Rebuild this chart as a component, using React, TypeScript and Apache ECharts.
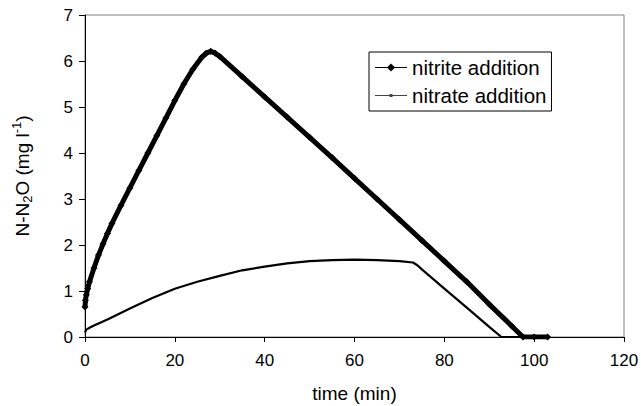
import React, { useEffect, useRef } from "react";
import * as echarts from "echarts";

const nitriteTime = [0, 0.1, 0.3, 0.6, 1, 2, 3, 4, 5, 6, 8, 10, 12, 14, 16, 18, 20, 22, 24, 26, 27, 28, 29, 30, 35, 40, 45, 50, 55, 60, 65, 70, 75, 80, 85, 90, 95, 97.5, 100, 103];
const nitriteValue = [0.65, 0.8, 0.92, 1.05, 1.2, 1.5, 1.78, 2.02, 2.25, 2.47, 2.86, 3.24, 3.62, 4.0, 4.38, 4.76, 5.14, 5.5, 5.82, 6.08, 6.17, 6.21, 6.17, 6.1, 5.66, 5.22, 4.78, 4.34, 3.9, 3.45, 3.0, 2.55, 2.1, 1.65, 1.2, 0.71, 0.24, 0, 0, 0];

const nitrateTime = [0, 0.3, 1, 2, 5, 10, 15, 20, 25, 30, 35, 40, 45, 50, 55, 60, 65, 70, 73, 74, 75, 80, 85, 90, 92.7, 95, 98];
const nitrateValue = [0.1, 0.16, 0.2, 0.25, 0.38, 0.62, 0.85, 1.05, 1.2, 1.33, 1.45, 1.53, 1.6, 1.65, 1.67, 1.68, 1.67, 1.65, 1.62, 1.56, 1.47, 1.05, 0.64, 0.22, 0, 0, 0];

const seriesNames = ["nitrite addition", "nitrate addition"];
const xTicks = [0, 20, 40, 60, 80, 100, 120];
const yTicks = [0, 1, 2, 3, 4, 5, 6, 7];

const FONT = "'Liberation Sans', Arial, Helvetica, sans-serif";

export default function App() {
  const ref = useRef<HTMLDivElement>(null);
  useEffect(() => {
    if (!ref.current) return;
    const chart = echarts.init(ref.current, null, { renderer: "svg" });
    const nitrite = nitriteTime.map((t, i) => [t, nitriteValue[i]]);
    const nitrate = nitrateTime.map((t, i) => [t, nitrateValue[i]]);
    chart.setOption({
      animation: false,
      backgroundColor: "#fff",
      textStyle: { fontFamily: FONT },
      grid: {
        left: 85,
        right: 17,
        top: 15,
        bottom: 69,
        outerBoundsMode: "none",
        containLabel: false,
        show: true,
        borderColor: "#808080",
        borderWidth: 1,
        backgroundColor: "transparent",
      },
      legend: {
        orient: "vertical",
        left: 369,
        top: 52,
        padding: [5, 5, 5, 6],
        itemGap: 7,
        itemWidth: 32,
        itemHeight: 10,
        borderColor: "#000",
        borderWidth: 1,
        backgroundColor: "#fff",
        textStyle: { fontSize: 20.5, color: "#000", fontFamily: FONT },
        data: [
          {
            name: seriesNames[0],
            icon: "path://M0,4.4H32V5.6H0Z M16,1L20,5L16,9L12,5Z",
            itemStyle: { color: "#000" },
          },
          {
            name: seriesNames[1],
            icon: "path://M0,4.4H32V5.6H0Z M14.5,3.5H17.5V6.5H14.5Z",
            itemStyle: { color: "#444" },
          },
        ],
      },
      xAxis: {
        type: "value",
        min: xTicks[0],
        max: xTicks[xTicks.length - 1],
        interval: 20,
        name: "time (min)",
        nameLocation: "middle",
        nameGap: 47,
        nameTextStyle: { fontSize: 19, color: "#000", fontFamily: FONT },
        axisLine: { show: true, onZero: false, lineStyle: { color: "#000", width: 1 } },
        axisTick: { show: true, inside: false, length: 5, lineStyle: { color: "#000" } },
        axisLabel: { fontSize: 17, color: "#000", margin: 15, fontFamily: FONT },
        splitLine: { show: false },
      },
      yAxis: {
        type: "value",
        min: yTicks[0],
        max: yTicks[yTicks.length - 1],
        interval: 1,
        name: "{a|N-N}{s|2}{a|O (mg l}{p|-1}{a|)}",
        nameLocation: "middle",
        nameRotate: 90,
        nameGap: 51,
        nameTextStyle: {
          color: "#000",
          fontFamily: FONT,
          rich: {
            a: { fontSize: 19, lineHeight: 24, verticalAlign: "middle", color: "#000", fontFamily: FONT },
            s: { fontSize: 13, lineHeight: 24, verticalAlign: "bottom", color: "#000", fontFamily: FONT },
            p: { fontSize: 13, lineHeight: 24, verticalAlign: "top", color: "#000", fontFamily: FONT },
          },
        },
        axisLine: { show: true, lineStyle: { color: "#000", width: 1 } },
        axisTick: { show: true, inside: false, length: 6, lineStyle: { color: "#000" } },
        axisLabel: { fontSize: 17, color: "#000", margin: 12, fontFamily: FONT },
        splitLine: { show: false },
      },
      series: [
        {
          name: seriesNames[0],
          type: "line",
          data: nitrite,
          showSymbol: true,
          symbol: "diamond",
          symbolSize: 7,
          itemStyle: { color: "#000" },
          lineStyle: { color: "#000", width: 5 },
          z: 3,
        },
        {
          name: seriesNames[1],
          type: "line",
          data: nitrate,
          showSymbol: false,
          symbol: "rect",
          symbolSize: 2,
          itemStyle: { color: "#000" },
          lineStyle: { color: "#000", width: 2.2 },
          z: 2,
        },
      ],
    });
    return () => chart.dispose();
  }, []);
  return (
    <div
      ref={ref}
      style={{ position: "fixed", left: 0, top: 0, width: 641, height: 406, background: "#fff" }}
    />
  );
}
